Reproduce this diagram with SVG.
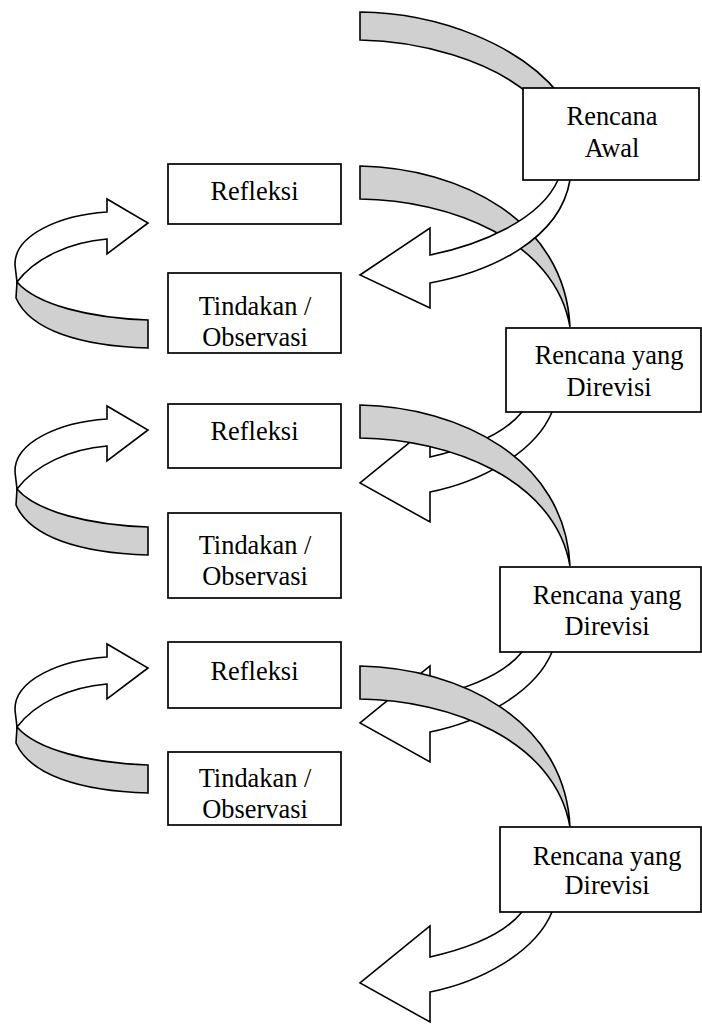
<svg xmlns="http://www.w3.org/2000/svg" width="702" height="1024" viewBox="0 0 702 1024">
<style>
.bg{fill:#ffffff}
.box{fill:#ffffff;stroke:#000;stroke-width:1.7}
.gray{fill:#d0d0d0;stroke:#000;stroke-width:1.6;stroke-linejoin:miter}
.white{fill:#ffffff;stroke:#000;stroke-width:1.6;stroke-linejoin:miter}
.t{font-family:"Liberation Serif","Times New Roman",serif;font-size:26.4px;fill:#000;text-anchor:middle}
</style>
<defs>
<path id="band" d="M360,166 C460,168 565,220 570,327 C555,240 450,200 360,199 Z"/>
<path id="warrow" d="M522,-81 L522,-71 C505,-50 470,-35 430,-26 L430,-57 L360,0 L430,39 L430,9 C480,-1 535,-30 552,-71 L554,-81 Z"/>
<g id="larrow">
<path class="gray" d="M17,282 C37,305 90,318 148,320 L148,348 C80,346 30,330 16,298 Z"/>
<path class="white" d="M15,265 C14,235 60,215 107,212 L107,199 L148,223 L107,254 L107,239 C70,242 35,258 17,282 Z"/>
</g>
</defs>
<rect class="bg" x="0" y="0" width="702" height="1024"/>
<g id="connectors">
<path class="gray" d="M360,12 C440,13 520,45 560,95 L575,130 L530,95 C490,60 420,41 360,40 Z"/>
<use href="#band" class="gray"/>
<path class="white" d="M558,168 L558,180 C540,220 480,245 430,255 L430,228 L360,275 L430,308 L430,283 C490,272 560,240 570,180 L572,168 Z"/>
<use href="#warrow" class="white" transform="translate(0,483)"/>
<use href="#band" class="gray" transform="translate(0,239)"/>
<use href="#warrow" class="white" transform="translate(0,723)"/>
<use href="#band" class="gray" transform="translate(0,500)"/>
<use href="#warrow" class="white" transform="translate(0,983)"/>
<use href="#larrow"/>
<use href="#larrow" transform="translate(0,207)"/>
<use href="#larrow" transform="translate(0,445)"/>
</g>
<g id="rencana-awal">
<rect class="box" x="523" y="88" width="176" height="92"/>
<text class="t" x="612" y="125">Rencana</text>
<text class="t" x="612" y="157">Awal</text>
</g>
<g id="refleksi-1">
<rect class="box" x="168" y="164" width="173" height="60"/>
<text class="t" x="254.5" y="200">Refleksi</text>
</g>
<g id="tindakan-1">
<rect class="box" x="168" y="273" width="173" height="80"/>
<text class="t" x="255" y="315">Tindakan /</text>
<text class="t" x="255" y="346">Observasi</text>
</g>
<g id="rencana-direvisi-1">
<rect class="box" x="506" y="328" width="195" height="84"/>
<text class="t" x="609" y="364">Rencana yang</text>
<text class="t" x="609" y="396">Direvisi</text>
</g>
<g id="refleksi-2">
<rect class="box" x="168" y="404" width="173" height="64"/>
<text class="t" x="254.5" y="440">Refleksi</text>
</g>
<g id="tindakan-2">
<rect class="box" x="168" y="513" width="173" height="85"/>
<text class="t" x="255" y="554">Tindakan /</text>
<text class="t" x="255" y="585">Observasi</text>
</g>
<g id="rencana-direvisi-2">
<rect class="box" x="500" y="567" width="201" height="85"/>
<text class="t" x="607" y="604">Rencana yang</text>
<text class="t" x="607" y="635">Direvisi</text>
</g>
<g id="refleksi-3">
<rect class="box" x="168" y="642" width="173" height="66"/>
<text class="t" x="254.5" y="680">Refleksi</text>
</g>
<g id="tindakan-3">
<rect class="box" x="168" y="752" width="173" height="73"/>
<text class="t" x="255" y="787">Tindakan /</text>
<text class="t" x="255" y="818">Observasi</text>
</g>
<g id="rencana-direvisi-3">
<rect class="box" x="500" y="827" width="201" height="85"/>
<text class="t" x="607" y="865">Rencana yang</text>
<text class="t" x="607" y="894">Direvisi</text>
</g>
</svg>
